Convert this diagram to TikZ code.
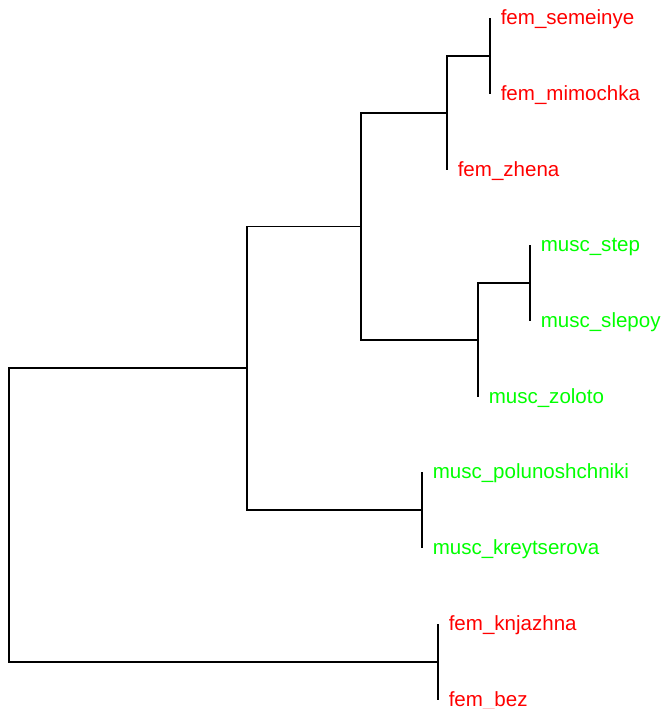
\documentclass[tikz,border=0pt]{standalone}
\usepackage{fontspec}
\setmainfont{Liberation Sans}
\begin{document}
\begin{tikzpicture}[x=0.75pt,y=-0.75pt,
  branch/.style={draw=black,line width=0.9pt},
  tiplabel/.style={anchor=base west,inner sep=0pt,font=\fontsize{15.4pt}{18pt}\selectfont},
  fem/.style={tiplabel,text=red},
  musc/.style={tiplabel,text=green}]
\useasboundingbox (0,0) rectangle (667,709);

% tips
\coordinate (t1) at (490,18);
\coordinate (t2) at (490,94);
\coordinate (t3) at (447,170);
\coordinate (t4) at (530,245);
\coordinate (t5) at (530,321);
\coordinate (t6) at (478,397);
\coordinate (t7) at (422,472);
\coordinate (t8) at (422,548);
\coordinate (t9) at (438,624);
\coordinate (t10) at (438,700);

% internal nodes
\coordinate (nsm) at (490,56);
\coordinate (nz) at (447,113);
\coordinate (nss) at (530,283);
\coordinate (nzo) at (478,340);
\coordinate (nfm) at (361,226.5);
\coordinate (npk) at (422,510);
\coordinate (nup) at (247,368);
\coordinate (nkb) at (438,662);
\coordinate (root) at (9,515);

% branches
\draw[branch] (nsm) |- (t1) (nsm) |- (t2);
\draw[branch] (nz) |- (nsm) (nz) |- (t3);
\draw[branch] (nss) |- (t4) (nss) |- (t5);
\draw[branch] (nzo) |- (nss) (nzo) |- (t6);
\draw[branch] (nfm) |- (nz) (nfm) |- (nzo);
\draw[branch] (npk) |- (t7) (npk) |- (t8);
\draw[branch] (nup) |- (nfm) (nup) |- (npk);
\draw[branch] (nkb) |- (t9) (nkb) |- (t10);
\draw[branch] (root) |- (nup) (root) |- (nkb);

% tip labels
\node[fem]  (l1)  at ([shift={(10.5,6.8)}]t1)  {fem\_semeinye};
\node[fem]  (l2)  at ([shift={(10.5,6.8)}]t2)  {fem\_mimochka};
\node[fem]  (l3)  at ([shift={(10.5,6.8)}]t3)  {fem\_zhena};
\node[musc] (l4)  at ([shift={(10.5,6.8)}]t4)  {musc\_step};
\node[musc] (l5)  at ([shift={(10.5,6.8)}]t5)  {musc\_slepoy};
\node[musc] (l6)  at ([shift={(10.5,6.8)}]t6)  {musc\_zoloto};
\node[musc] (l7)  at ([shift={(10.5,6.8)}]t7)  {musc\_polunoshchniki};
\node[musc] (l8)  at ([shift={(10.5,6.8)}]t8)  {musc\_kreytserova};
\node[fem]  (l9)  at ([shift={(10.5,6.8)}]t9)  {fem\_knjazhna};
\node[fem]  (l10) at ([shift={(10.5,6.8)}]t10) {fem\_bez};
\end{tikzpicture}
\end{document}
